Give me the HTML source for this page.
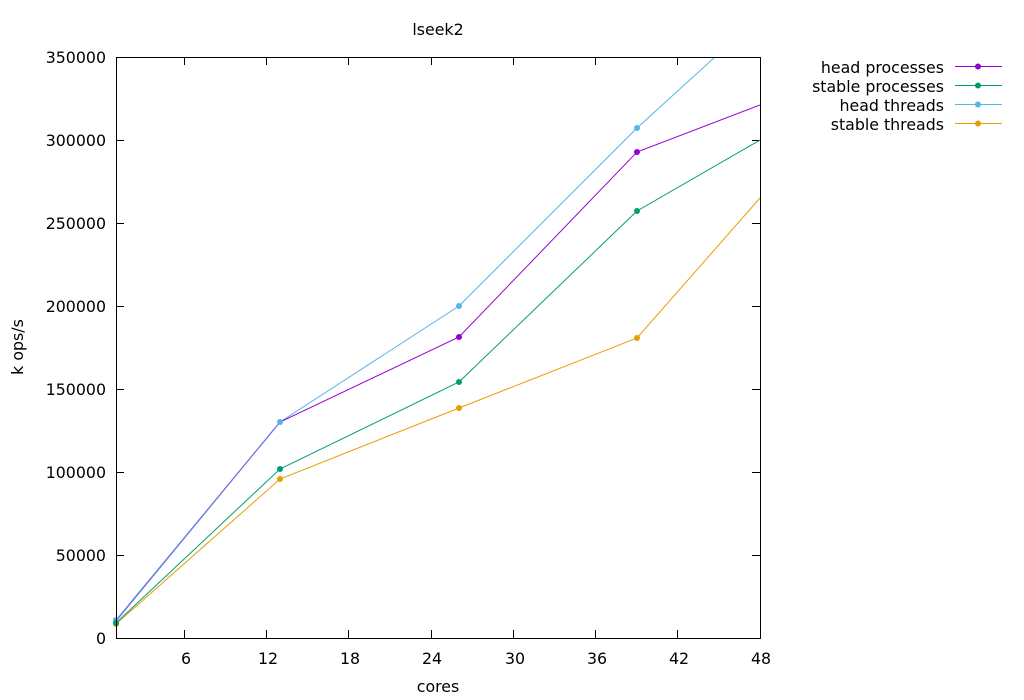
<!DOCTYPE html>
<html><head><meta charset="utf-8"><style>html,body{margin:0;padding:0;background:#fff}svg{display:block}text{font-family:"DejaVu Sans",sans-serif;font-size:15.8px;fill:#000}</style></head><body>
<svg width="1024" height="700" xmlns="http://www.w3.org/2000/svg">
<defs><clipPath id="c"><rect x="116" y="57" width="644" height="581"/></clipPath></defs>
<g stroke="#000" stroke-width="1">
<path d="M116 555.5h8M760 555.5h-8M116 472.5h8M760 472.5h-8M116 389.5h8M760 389.5h-8M116 306.5h8M760 306.5h-8M116 223.5h8M760 223.5h-8M116 140.5h8M760 140.5h-8"/>
<path d="M184.5 638v-8M184.5 57v8M266.5 638v-8M266.5 57v8M348.5 638v-8M348.5 57v8M431.5 638v-8M431.5 57v8M513.5 638v-8M513.5 57v8M595.5 638v-8M595.5 57v8M677.5 638v-8M677.5 57v8"/>
</g>
<g text-anchor="end">
<text x="106" y="644">0</text><text x="106" y="561">50000</text><text x="106" y="478">100000</text><text x="106" y="395">150000</text><text x="106" y="312">200000</text><text x="106" y="229">250000</text><text x="106" y="146">300000</text><text x="106" y="63">350000</text>
</g>
<g text-anchor="middle">
<text x="186" y="664">6</text><text x="268" y="664">12</text><text x="350" y="664">18</text><text x="432" y="664">24</text><text x="515" y="664">30</text><text x="597" y="664">36</text><text x="679" y="664">42</text><text x="761" y="664">48</text>
<text x="438" y="35">lseek2</text>
<text x="438" y="692">cores</text>
<text x="0" y="0" transform="translate(23,347) rotate(-90)">k ops/s</text>
</g>
<g clip-path="url(#c)" fill="none" stroke-width="1">
<polyline stroke="#e69f00" points="116,624 280,479 459,408 637,338 760,198"/>
<polyline stroke="#56b4e9" points="116,620 280,422 459,306 637,128 760,16"/>
<polyline stroke="#009e73" points="116,623 280,469 459,382 637,211 760,140"/>
<polyline stroke="#9400d3" points="116,621 280,422 459,337 637,152 760,105"/>
<polyline stroke="#6a7ee0" points="116,621 280,422"/>
</g>
<g>
<circle cx="116" cy="624" r="3" fill="#e69f00"/><circle cx="280" cy="479" r="3" fill="#e69f00"/><circle cx="459" cy="408" r="3" fill="#e69f00"/><circle cx="637" cy="338" r="3" fill="#e69f00"/>
<circle cx="116" cy="620" r="3" fill="#56b4e9"/><circle cx="280" cy="422" r="3" fill="#56b4e9"/><circle cx="459" cy="306" r="3" fill="#56b4e9"/><circle cx="637" cy="128" r="3" fill="#56b4e9"/>
<circle cx="116" cy="623" r="3" fill="#009e73"/><circle cx="280" cy="469" r="3" fill="#009e73"/><circle cx="459" cy="382" r="3" fill="#009e73"/><circle cx="637" cy="211" r="3" fill="#009e73"/>
<circle cx="459" cy="337" r="3" fill="#9400d3"/><circle cx="637" cy="152" r="3" fill="#9400d3"/>
</g>
<rect x="116.5" y="57.5" width="644" height="581" fill="none" stroke="#000"/>
<g text-anchor="end">
<text x="944" y="73">head processes</text><text x="944" y="92">stable processes</text><text x="944" y="111">head threads</text><text x="944" y="130">stable threads</text>
</g>
<g stroke-width="1">
<line x1="955" y1="66.5" x2="1002" y2="66.5" stroke="#9400d3"/><circle cx="978" cy="66.5" r="3" fill="#9400d3"/>
<line x1="955" y1="85.5" x2="1002" y2="85.5" stroke="#009e73"/><circle cx="978" cy="85.5" r="3" fill="#009e73"/>
<line x1="955" y1="104.5" x2="1002" y2="104.5" stroke="#56b4e9"/><circle cx="978" cy="104.5" r="3" fill="#56b4e9"/>
<line x1="955" y1="123.5" x2="1002" y2="123.5" stroke="#e69f00"/><circle cx="978" cy="123.5" r="3" fill="#e69f00"/>
</g>
</svg>
</body></html>
